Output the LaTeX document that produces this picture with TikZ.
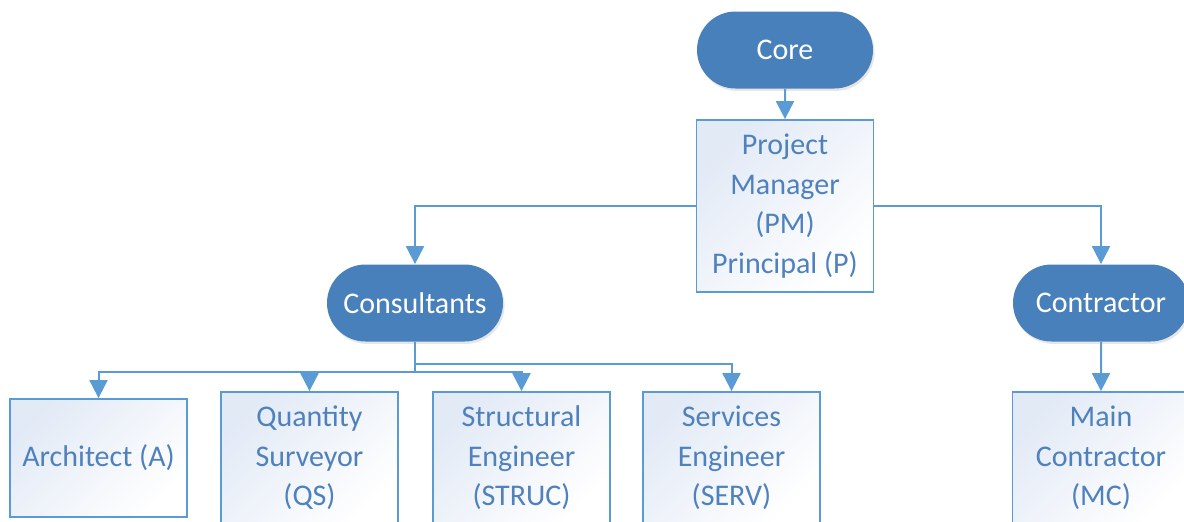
\documentclass[tikz,border=0pt]{standalone}
\usepackage{fontspec}
\setmainfont{Carlito}
\usetikzlibrary{arrows.meta,shapes.misc,shadows,positioning}

\definecolor{pillblue}{RGB}{72,128,188}
\definecolor{linkblue}{RGB}{91,155,213}
\definecolor{textblue}{RGB}{79,129,189}
\definecolor{boxtint}{RGB}{226,234,246}

\begin{document}
\begin{tikzpicture}[->,>={Triangle[length=9pt,width=9pt]},x=0.5pt,y=-0.5pt,
                    font=\fontsize{15}{19.75}\selectfont,
                    every edge/.append style={linkblue,line width=1pt},
                    pill/.style={rounded rectangle,fill=pillblue,text=white,
                      minimum width=88pt,minimum height=38.5pt,inner sep=0pt,
                      drop shadow={opacity=0.2,shadow xshift=0.8pt,shadow yshift=-1.2pt}},
                    role/.style={rectangle,draw=linkblue,line width=0.9pt,text=textblue,
                      top color=boxtint,bottom color=white,shading angle=45,
                      align=center,minimum width=88.5pt,minimum height=66pt,inner sep=0pt},
                    elbow/.style={to path={-| (\tikztotarget)}},
                    feed/.style={to path={-- ++(0,#1) -| (\tikztotarget)}}]

  \useasboundingbox (0,0) rectangle (1184,521);

  \node[pill] (core)  at (785,50)    {Core};
  \node[role,minimum height=86pt] (pm) at (785,206) {Project\\Manager\\(PM)\\Principal (P)};
  \node[pill] (cons)  at (415,303)   {Consultants};
  \node[pill] (contr) at (1101,303)  {Contractor};

  \node[role,minimum height=59pt] (arch) at (98.5,458) {Architect (A)};
  \node[role] (qs)    at (309.5,458) {Quantity\\Surveyor\\(QS)};
  \node[role] (struc) at (521.5,458) {Structural\\Engineer\\(STRUC)};
  \node[role] (serv)  at (731.5,458) {Services\\Engineer\\(SERV)};
  \node[role] (mc)    at (1101,458)  {Main\\Contractor\\(MC)};

  \path (core) edge (pm)
        (pm.west) edge [elbow] (cons)
        (pm.east) edge [elbow] (contr)
        (cons.south) edge [feed=22] (serv)
        (cons.south) edge [feed=30] (arch)
                     edge [feed=30] (qs)
                     edge [feed=30] (struc)
        (contr) edge (mc);
\end{tikzpicture}
\end{document}
